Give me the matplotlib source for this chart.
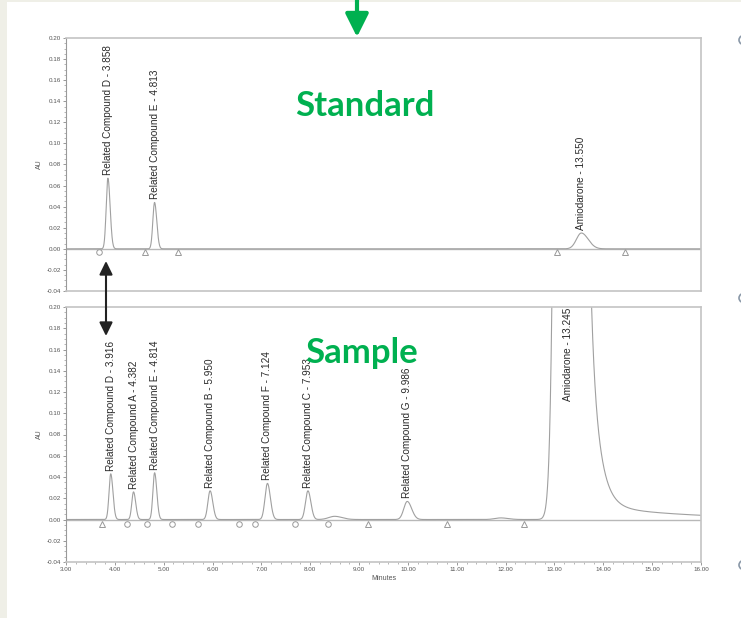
import numpy as np
import matplotlib.pyplot as plt
from matplotlib.ticker import MultipleLocator, FormatStrFormatter
from matplotlib.patches import Rectangle, Circle

# ---- standard injection ----
std_names = ['Related Compound D', 'Related Compound E', 'Amiodarone']
std_rt = [3.858, 4.813, 13.550]
std_height = [0.067, 0.044, 0.015]
std_sig_left = [0.035, 0.035, 0.10]
std_sig_right = [0.045, 0.045, 0.14]
std_circles = [3.67]
std_triangles = [4.62, 5.29, 13.06, 14.45]

# ---- sample injection ----
smp_names = ['Related Compound D', 'Related Compound A', 'Related Compound E',
             'Related Compound B', 'Related Compound F', 'Related Compound C',
             'Related Compound G', 'Amiodarone']
smp_rt = [3.916, 4.382, 4.814, 5.950, 7.124, 7.953, 9.986, 13.245]
smp_height = [0.043, 0.026, 0.044, 0.027, 0.034, 0.027, 0.017, 3.2]
smp_sig_left = [0.035, 0.035, 0.035, 0.045, 0.05, 0.05, 0.07, 0.127]
smp_sig_right = [0.045, 0.045, 0.045, 0.055, 0.06, 0.06, 0.09, 0.168]
# small unlabeled bumps on the sample baseline
bump_rt = [8.50, 11.90]
bump_height = [0.003, 0.0015]
# tailing of the main amiodarone peak (amplitude, decay in min)
amio_tail_amp = [3.1, 0.018]
amio_tail_tau = [0.173, 1.82]
smp_circles = [4.25, 4.66, 5.17, 5.70, 6.54, 6.87, 7.68, 8.36]
smp_triangles = [3.74, 9.18, 10.79, 12.37]

GREEN = '#00b050'
TRACE = '#a0a0a0'
LINE = '#b8b8b8'
TXT = '#2a2a2a'
LABEL_SIZE = 7.2


def peak(t, rt, h, sl, sr):
    s = np.where(t < rt, sl, sr)
    return h * np.exp(-(t - rt) ** 2 / (2 * s ** 2))


def trace(t, rts, hs, sls, srs):
    y = np.zeros_like(t)
    for rt, h, sl, sr in zip(rts, hs, sls, srs):
        y += peak(t, rt, h, sl, sr)
    return y


def style_axes(ax, show_x):
    ax.set_xlim(3, 16)
    ax.set_ylim(-0.04, 0.20)
    ax.yaxis.set_major_locator(MultipleLocator(0.02))
    ax.yaxis.set_minor_locator(MultipleLocator(0.005))
    ax.yaxis.set_major_formatter(FormatStrFormatter('%.2f'))
    ax.xaxis.set_major_locator(MultipleLocator(1))
    ax.xaxis.set_minor_locator(MultipleLocator(0.2))
    ax.xaxis.set_major_formatter(FormatStrFormatter('%.2f'))
    ax.tick_params(labelsize=4.5, labelcolor='#555555', color='#888888',
                   length=2.5, width=0.6, pad=1)
    ax.tick_params(which='minor', length=1.5, width=0.5, color='#999999')
    ax.tick_params(top=False, right=False)
    if not show_x:
        ax.tick_params(axis='x', which='both', bottom=False, labelbottom=False)
    for sp in ax.spines.values():
        sp.set_color('#c4c4c4')
        sp.set_linewidth(1.2)
    ax.spines['left'].set_color('#999999')
    ax.spines['left'].set_linewidth(0.8)
    ax.set_ylabel('AU', fontsize=5, color='#555555', labelpad=3)
    ax.axhline(0, color=LINE, lw=1.0, zorder=1)


plt.rcParams['font.family'] = ['Liberation Sans', 'DejaVu Sans']
fig = plt.figure(figsize=(7.41, 6.18), dpi=100)
fig.patch.set_facecolor('white')
fig.add_artist(Rectangle((0, 0), 7 / 741, 1, transform=fig.transFigure,
                         color='#efefe7', lw=0, zorder=0))
fig.add_artist(Rectangle((0, 1 - 2 / 618), 1, 2 / 618, transform=fig.transFigure,
                         color='#efefe7', lw=0, zorder=0))

ax1 = fig.add_axes([66 / 741, 1 - 291 / 618, 635 / 741, 253 / 618])
ax2 = fig.add_axes([66 / 741, 1 - 562 / 618, 635 / 741, 255 / 618])
style_axes(ax1, False)
style_axes(ax2, True)
ax2.set_xlabel('Minutes', fontsize=5, color='#555555', labelpad=2)

t = np.linspace(3, 16, 4000)

# standard trace
y1 = trace(t, std_rt, std_height, std_sig_left, std_sig_right)
ax1.plot(t, y1, color=TRACE, lw=0.8, zorder=2)
ax1.plot(std_circles, [-0.003] * len(std_circles), 'o', mfc='white', mec='#999999',
         ms=4, mew=0.7, zorder=3)
ax1.plot(std_triangles, [-0.003] * len(std_triangles), '^', mfc='white', mec='#999999',
         ms=5, mew=0.7, zorder=3)
for name, rt, h in zip(std_names, std_rt, std_height):
    ax1.text(rt, h + 0.003, f'{name} - {rt:.3f}', rotation=90, ha='center', va='bottom',
             fontsize=LABEL_SIZE, color=TXT)

# sample trace
y2 = trace(t, smp_rt, smp_height, smp_sig_left, smp_sig_right)
y2 += trace(t, bump_rt, bump_height, [0.12] * len(bump_rt), [0.15] * len(bump_rt))
after = t > smp_rt[-1]
for a, tau in zip(amio_tail_amp, amio_tail_tau):
    y2[after] += a * np.exp(-(t[after] - smp_rt[-1]) / tau)
ax2.plot(t, y2, color=TRACE, lw=0.8, zorder=2)
ax2.plot(smp_circles, [-0.004] * len(smp_circles), 'o', mfc='white', mec='#999999',
         ms=4, mew=0.7, zorder=3)
ax2.plot(smp_triangles, [-0.004] * len(smp_triangles), '^', mfc='white', mec='#999999',
         ms=5, mew=0.7, zorder=3)
for name, rt, h in zip(smp_names, smp_rt, smp_height):
    if h > 0.2:
        ax2.text(rt + 0.03, 0.199, f'{name} - {rt:.3f}', rotation=90, ha='center', va='top',
                 fontsize=LABEL_SIZE, color=TXT)
    else:
        ax2.text(rt, h + 0.003, f'{name} - {rt:.3f}', rotation=90, ha='center', va='bottom',
                 fontsize=LABEL_SIZE, color=TXT)

# slide annotations
fig.text(365 / 741, 1 - 106 / 618, 'Standard', color=GREEN, fontsize=25,
         fontweight='bold', family=['Lato', 'DejaVu Sans'], ha='center', va='center')
fig.text(362 / 741, 1 - 353 / 618, 'Sample', color=GREEN, fontsize=25,
         fontweight='bold', family=['Lato', 'DejaVu Sans'], ha='center', va='center')
fig.add_artist(plt.Annotation('', xy=(357, 618 - 37), xytext=(357, 619),
                              xycoords='figure pixels', textcoords='figure pixels',
                              arrowprops=dict(arrowstyle='-|>,head_width=0.35,head_length=0.7',
                                              color=GREEN, lw=3, mutation_scale=20,
                                              shrinkA=0, shrinkB=0)))
fig.add_artist(plt.Annotation('', xy=(106, 618 - 336), xytext=(106, 618 - 261),
                              xycoords='figure pixels', textcoords='figure pixels',
                              arrowprops=dict(arrowstyle='<|-|>,head_width=0.22,head_length=0.45',
                                              color='#222222', lw=1.5, mutation_scale=18,
                                              shrinkA=0, shrinkB=0)))
for yy in [40, 298, 565]:
    fig.add_artist(Circle((745 / 741, 1 - yy / 618), 6 / 741, transform=fig.transFigure,
                          fc='none', ec='#8a98a8', lw=1.2))

fig.savefig('out.png', dpi=100)
